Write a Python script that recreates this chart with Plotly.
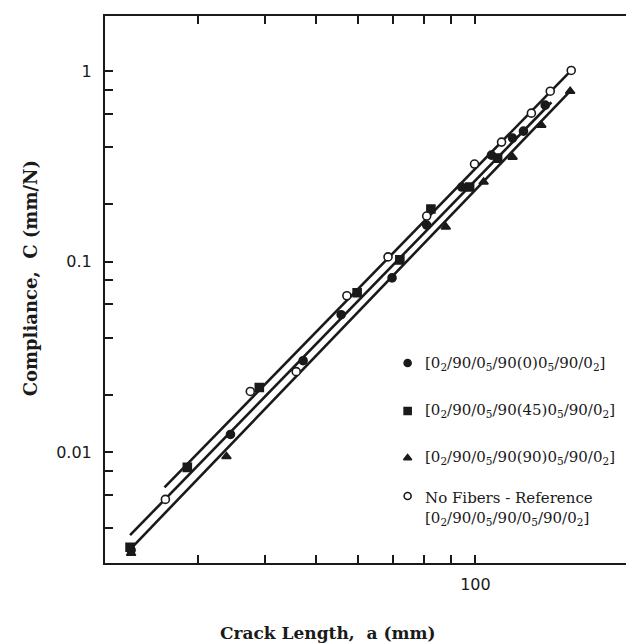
import plotly.graph_objects as go

# ---------------- data ----------------
# crack length a (mm) and compliance C (mm/N)
a_fib0 = [135.4, 123.2, 117.5, 107.2, 94.2, 80.9, 69.6, 55.8, 47.3, 34.5, 22.4]
c_fib0 = [0.664, 0.485, 0.446, 0.363, 0.247, 0.156, 0.0824, 0.0528, 0.0303, 0.01243, 0.00307]

a_fib45 = [110.1, 97.5, 82.4, 72.0, 59.8, 39.1, 28.6, 22.3]
c_fib45 = [0.350, 0.247, 0.1894, 0.1024, 0.0688, 0.0219, 0.00835, 0.00318]

a_fib90 = [150.9, 133.1, 117.5, 103.6, 87.9, 33.9, 22.4]
c_fib90 = [0.786, 0.522, 0.3546, 0.2623, 0.1525, 0.00953, 0.00296]

a_ref = [151.6, 138.4, 127.5, 112.0, 99.6, 80.9, 68.4, 57.2, 45.9, 37.6, 26.0]
c_ref = [1.01, 0.786, 0.603, 0.425, 0.326, 0.174, 0.1062, 0.0664, 0.02655, 0.0209, 0.00567]

# fitted lines (end points)
a_fit_top = [25.9, 151.6]
c_fit_top = [0.00656, 1.01]
a_fit_mid = [22.3, 139.1]
c_fit_mid = [0.00368, 0.688]
a_fit_bot = [22.5, 150.9]
c_fit_bot = [0.00318, 0.786]

legend_labels = [
    "[0<sub>2</sub>/90/0<sub>5</sub>/90(0)0<sub>5</sub>/90/0<sub>2</sub>]",
    "[0<sub>2</sub>/90/0<sub>5</sub>/90(45)0<sub>5</sub>/90/0<sub>2</sub>]",
    "[0<sub>2</sub>/90/0<sub>5</sub>/90(90)0<sub>5</sub>/90/0<sub>2</sub>]",
    "No Fibers - Reference<br>[0<sub>2</sub>/90/0<sub>5</sub>/90/0<sub>5</sub>/90/0<sub>2</sub>]",
]

x_tickvals = [30, 40, 50, 60, 70, 80, 90, 100]
x_ticktext = ["", "", "", "", "", "", "", "100"]
y_tickvals = [0.004, 0.006, 0.008, 0.01, 0.02, 0.04, 0.06, 0.08, 0.1,
              0.2, 0.4, 0.6, 0.8, 1]
y_ticktext = ["", "", "", "0.01", "", "", "", "", "0.1", "", "", "", "", "1"]

# ---------------- figure ----------------
fig = go.Figure()
line_style = dict(color="#1a1a1a", width=2.6)
for ax, cy in [(a_fit_top, c_fit_top), (a_fit_mid, c_fit_mid), (a_fit_bot, c_fit_bot)]:
    fig.add_trace(go.Scatter(x=ax, y=cy, mode="lines", line=line_style,
                             showlegend=False, hoverinfo="skip"))

mk_line = dict(color="#1a1a1a", width=1.6)
series = [
    (a_fib0, c_fib0, dict(symbol="circle", size=8, color="#1a1a1a", line=mk_line)),
    (a_fib45, c_fib45, dict(symbol="square", size=8, color="#1a1a1a", line=mk_line)),
    (a_fib90, c_fib90, dict(symbol="triangle-up", size=8, color="#1a1a1a", line=mk_line)),
    (a_ref, c_ref, dict(symbol="circle", size=8, color="white", line=mk_line)),
]
for ax, cy, mk in series:
    fig.add_trace(go.Scatter(x=ax, y=cy, mode="markers", marker=mk, showlegend=False))

# legend markers on a hidden overlay axis (paper-like 0..1 coordinates)
leg_x = 0.571
leg_y = [0.3656, 0.2779, 0.192, 0.1225]
leg_text_y = [0.3656, 0.2779, 0.192, 0.1000]
for (ax, cy, mk), yy in zip(series, leg_y):
    m = dict(mk)
    m["size"] = 7
    fig.add_trace(go.Scatter(x=[leg_x], y=[yy], mode="markers", marker=m,
                             xaxis="x2", yaxis="y2", showlegend=False, hoverinfo="skip"))

for lab, yy in zip(legend_labels, leg_text_y):
    fig.add_annotation(text=lab, xref="paper", yref="paper", x=0.600, y=yy,
                       xanchor="left", yanchor="middle", align="left", showarrow=False,
                       font=dict(family="DejaVu Serif", size=15, color="#1a1a1a"))

# axis titles
fig.add_annotation(text="<b>Crack Length,  a (mm)</b>", xref="paper", yref="paper",
                   x=0.42, y=-0.128, xanchor="center", yanchor="middle", showarrow=False,
                   font=dict(family="DejaVu Serif", size=17, color="#1a1a1a"))
fig.add_annotation(text="<b>Compliance,  C (mm/N)</b>", xref="paper", yref="paper",
                   x=-0.14, y=0.52, xanchor="center", yanchor="middle", textangle=-90,
                   showarrow=False,
                   font=dict(family="DejaVu Serif", size=18, color="#1a1a1a"))

axis_common = dict(showgrid=False, zeroline=False, showline=True, linecolor="#1a1a1a",
                   linewidth=2, mirror="ticks", ticks="inside", ticklen=8, tickwidth=1.6,
                   tickcolor="#1a1a1a",
                   tickfont=dict(family="DejaVu Sans", size=16, color="#1a1a1a"))

fig.update_layout(
    width=634, height=643,
    margin=dict(l=97, r=5, t=8, b=88),
    paper_bgcolor="white", plot_bgcolor="white",
    xaxis=dict(type="log", range=[1.30103, 2.30103], tickvals=x_tickvals,
               ticktext=x_ticktext, ticklabelstandoff=6, **axis_common),
    yaxis=dict(type="log", range=[-2.58, 0.29], tickvals=y_tickvals,
               ticktext=y_ticktext, ticklabelstandoff=8, **axis_common),
    xaxis2=dict(overlaying="x", range=[0, 1], visible=False),
    yaxis2=dict(overlaying="y", range=[0, 1], visible=False),
    showlegend=False,
)

fig.write_html("out.html")
